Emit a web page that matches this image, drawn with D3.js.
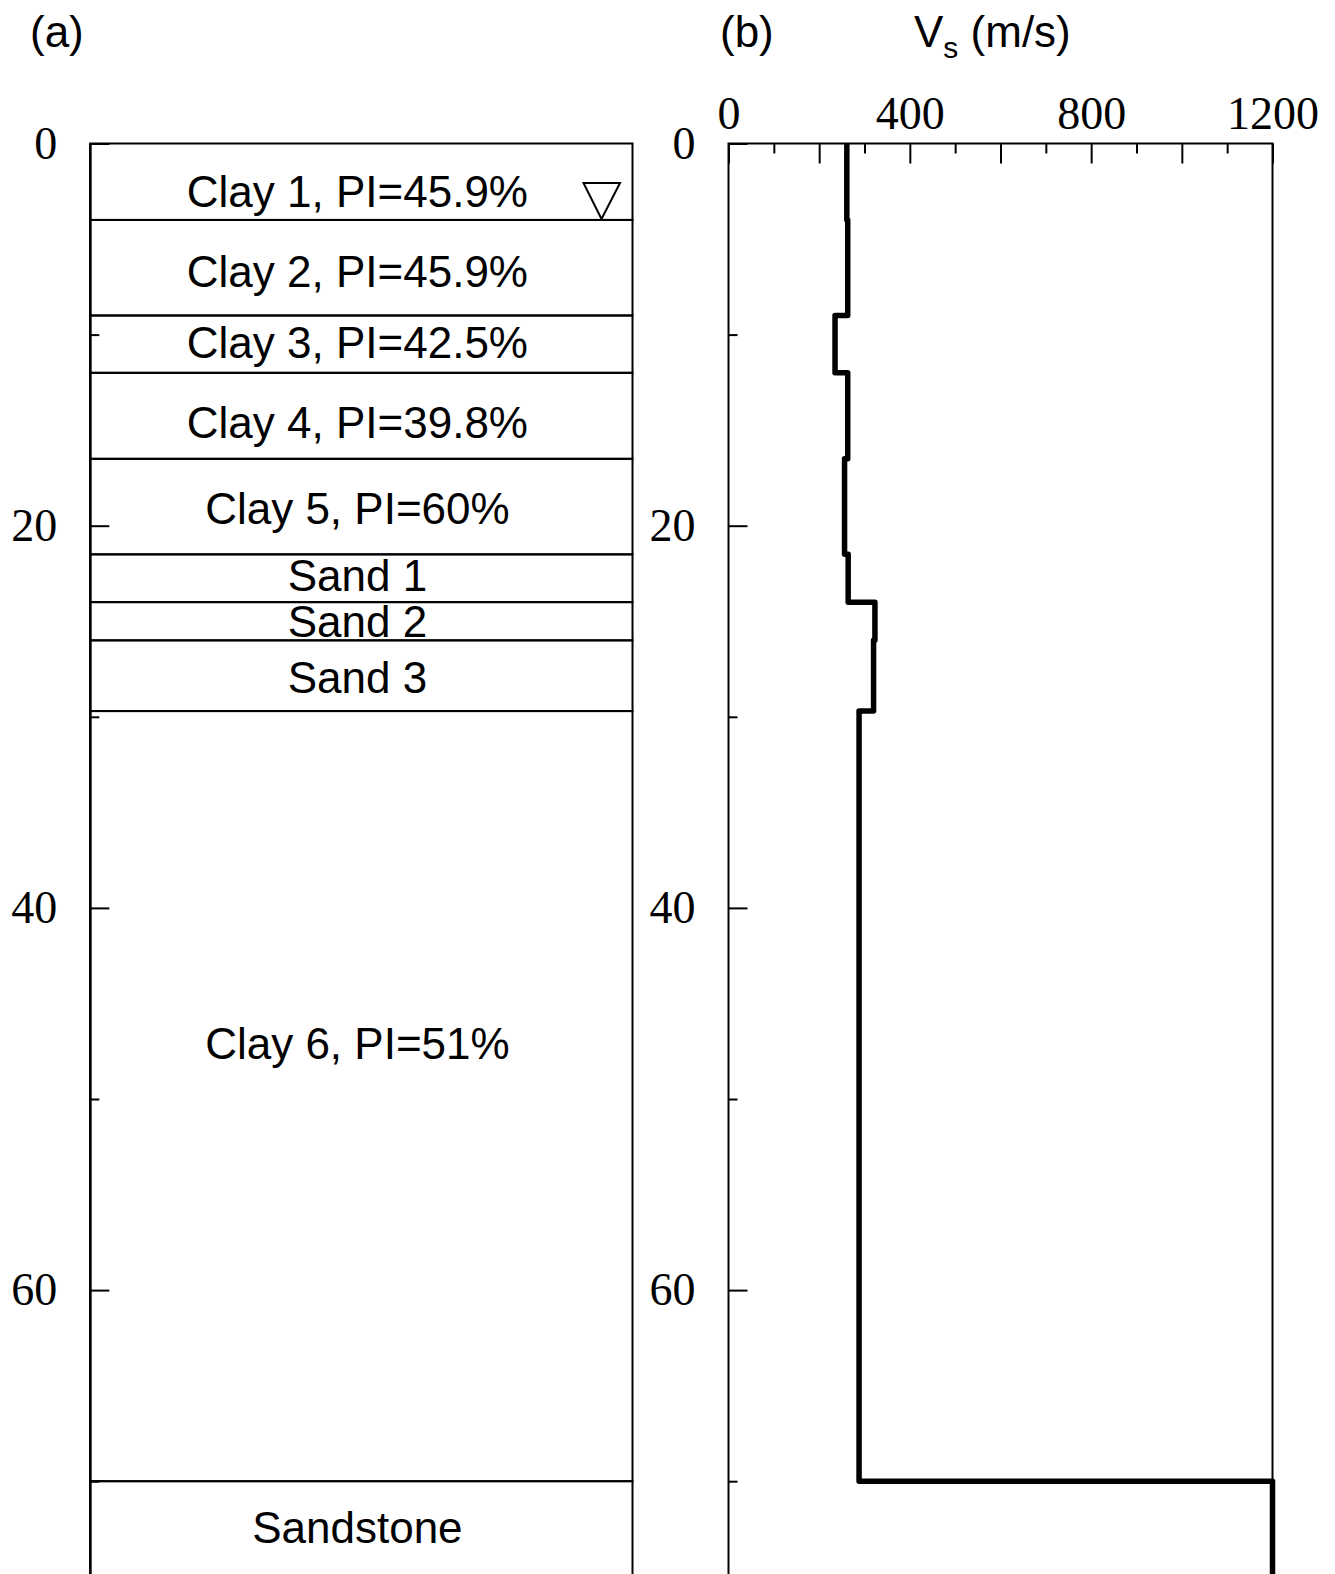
<!DOCTYPE html>
<html>
<head>
<meta charset="utf-8">
<script src="https://cdn.jsdelivr.net/npm/d3@7"></script>
<style>
  html, body { margin: 0; padding: 0; background: #fff; }
  svg { display: block; }
</style>
</head>
<body>
<svg id="chart" width="1335" height="1574"></svg>
<script>
// ---------- data ----------
const layerNames = ["Clay 1, PI=45.9%", "Clay 2, PI=45.9%", "Clay 3, PI=42.5%", "Clay 4, PI=39.8%",
  "Clay 5, PI=60%", "Sand 1", "Sand 2", "Sand 3", "Clay 6, PI=51%", "Sandstone"];
const layerTops    = [0, 4, 9, 12, 16.5, 21.5, 24, 26, 29.7, 70];
const layerBottoms = [4, 9, 12, 16.5, 21.5, 24, 26, 29.7, 70, 75];
const labelDepths  = [2.5, 6.7, 10.4, 14.6, 19.1, 22.6, 25.0, 27.9, 47.1, 72.4];
const vsValues     = [261, 263, 235, 263, 256, 264, 323, 320, 288, 1200];
const waterTableDepth = 4;
const depthMajorTicks = [0, 20, 40, 60];
const depthMinorTicks = [10, 30, 50, 70];
const vsLabelTicks = [0, 400, 800, 1200];
const vsMajorTicks = [200, 600, 1000];
const vsMinorTicks = [100, 300, 500, 700, 900, 1100];

// ---------- layout ----------
(function () {
const svg = d3.select("#chart");
const y0 = 143.5;
const depthMax = 75;
const y = d3.scaleLinear().domain([0, depthMax]).range([y0, y0 + 19.11 * depthMax]);
const aLeft = 90.3, aRight = 632.5;
const bLeft = 728.5, bRight = 1272.5;
const xVs = d3.scaleLinear().domain([0, 1200]).range([bLeft, bRight]);

const serif = "'Liberation Serif', 'Times New Roman', serif";
const sans = "'Liberation Sans', Arial, sans-serif";
const fmt = d3.format("d");

function styleAxis(g) {
  g.selectAll(".domain").remove();
  g.selectAll(".tick line").attr("stroke", "#000").attr("stroke-width", 2);
  g.selectAll(".tick text").attr("fill", "#000").attr("font-family", serif).attr("font-size", 46);
}

// ---------- panel (a) ----------
const pa = svg.append("g");
pa.selectAll("rect.layer")
  .data(layerNames.map((n, i) => ({ n, t: layerTops[i], b: layerBottoms[i] })))
  .join("rect")
  .attr("class", "layer")
  .attr("x", aLeft).attr("width", aRight - aLeft)
  .attr("y", d => y(d.t)).attr("height", d => y(d.b) - y(d.t))
  .attr("fill", "none").attr("stroke", "#000").attr("stroke-width", 2);

pa.selectAll("text.lbl")
  .data(layerNames.map((n, i) => ({ n, ld: labelDepths[i] })))
  .join("text")
  .attr("class", "lbl")
  .attr("x", (aLeft + aRight) / 2 - 4)
  .attr("y", d => y(d.ld))
  .attr("dy", "0.36em")
  .attr("text-anchor", "middle")
  .attr("font-family", sans).attr("font-size", 44)
  .attr("fill", "#000")
  .text(d => d.n);

// water table symbol
const wy = y(waterTableDepth) - 1, wx = aRight - 31;
pa.append("path")
  .attr("d", `M${wx},${wy} L${wx - 18},${wy - 36} L${wx + 18.5},${wy - 36} Z`)
  .attr("fill", "#fff").attr("stroke", "#000").attr("stroke-width", 2).attr("stroke-linejoin", "miter");

// left axis (a)
pa.append("g").attr("transform", `translate(${aLeft},0)`)
  .call(d3.axisLeft(y).tickValues(depthMajorTicks).tickFormat(fmt).tickSizeInner(-19).tickSizeOuter(0).tickPadding(33))
  .call(styleAxis);
pa.append("g").attr("transform", `translate(${aLeft},0)`)
  .call(d3.axisLeft(y).tickValues(depthMinorTicks).tickSizeInner(-9).tickSizeOuter(0).tickFormat(""))
  .call(styleAxis);
pa.append("line").attr("x1", aLeft).attr("x2", aLeft).attr("y1", y0).attr("y2", 1574)
  .attr("stroke", "#000").attr("stroke-width", 2.5);

// ---------- panel (b) ----------
const pb = svg.append("g");
pb.append("g").attr("transform", `translate(${bLeft},0)`)
  .call(d3.axisLeft(y).tickValues(depthMajorTicks).tickFormat(fmt).tickSizeInner(-19).tickSizeOuter(0).tickPadding(33))
  .call(styleAxis);
pb.append("g").attr("transform", `translate(${bLeft},0)`)
  .call(d3.axisLeft(y).tickValues(depthMinorTicks).tickSizeInner(-9).tickSizeOuter(0).tickFormat(""))
  .call(styleAxis);
pb.append("g").attr("transform", `translate(0,${y0})`)
  .call(d3.axisTop(xVs).tickValues(vsLabelTicks).tickFormat(fmt).tickSizeInner(-20).tickSizeOuter(0).tickPadding(15))
  .call(styleAxis);
pb.append("g").attr("transform", `translate(0,${y0})`)
  .call(d3.axisTop(xVs).tickValues(vsMajorTicks).tickSizeInner(-20).tickSizeOuter(0).tickFormat(""))
  .call(styleAxis);
pb.append("g").attr("transform", `translate(0,${y0})`)
  .call(d3.axisTop(xVs).tickValues(vsMinorTicks).tickSizeInner(-10).tickSizeOuter(0).tickFormat(""))
  .call(styleAxis);
pb.append("path")
  .attr("d", `M${bLeft},1574 L${bLeft},${y0} L${bRight},${y0} L${bRight},1574`)
  .attr("fill", "none").attr("stroke", "#000").attr("stroke-width", 2);

// Vs step profile
const stepPts = [];
vsValues.forEach((v, i) => {
  stepPts.push([v, layerTops[i]]);
  stepPts.push([v, layerBottoms[i]]);
});
pb.append("path")
  .datum(stepPts)
  .attr("d", d3.line().x(d => xVs(d[0])).y(d => y(d[1])))
  .attr("fill", "none").attr("stroke", "#000").attr("stroke-width", 5.5)
  .attr("stroke-linejoin", "round");

// ---------- titles ----------
svg.append("text").attr("x", 30).attr("y", 47)
  .attr("font-family", sans).attr("font-size", 44).attr("fill", "#000").text("(a)");
svg.append("text").attr("x", 720).attr("y", 47)
  .attr("font-family", sans).attr("font-size", 44).attr("fill", "#000").text("(b)");
const vt = svg.append("text").attr("x", 914).attr("y", 47)
  .attr("font-family", sans).attr("font-size", 44).attr("fill", "#000");
vt.append("tspan").text("V");
vt.append("tspan").attr("font-size", 30).attr("dy", 11).text("s");
vt.append("tspan").attr("dy", -11).text(" (m/s)");
})();
</script>
</body>
</html>
